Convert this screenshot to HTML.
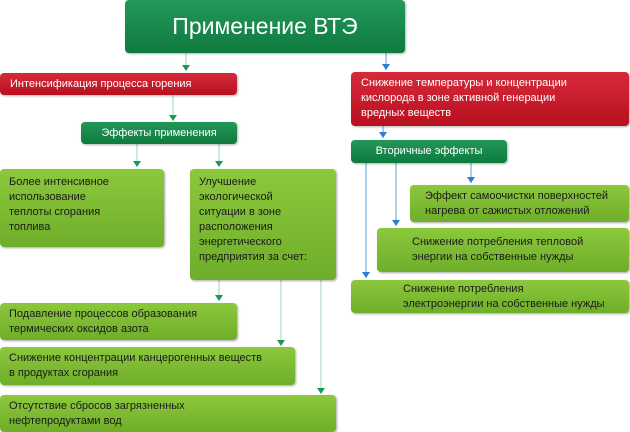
<!DOCTYPE html>
<html><head><meta charset="utf-8"><style>
body{margin:0;width:630px;height:432px;background:#fff;position:relative;overflow:hidden;font-family:"Liberation Sans",sans-serif;}
.b{position:absolute;box-sizing:border-box;border-radius:4px;font-size:11px;line-height:15px;color:#1a1a1a;}
.g{background:linear-gradient(#8cc83c,#6fae2a);box-shadow:1px 1px 2px rgba(0,0,0,.35);padding:6px 9px;}
.r{background:linear-gradient(#d62a3a,#b8101f);color:#fff;padding:4px 10px;box-shadow:1px 1px 2px rgba(0,0,0,.3);}
.d{background:linear-gradient(#23975a,#0f7a3e);color:#fff;text-align:center;box-shadow:1px 1px 2px rgba(0,0,0,.3);}
svg{position:absolute;left:0;top:0;}
</style></head><body>
<svg width="630" height="432">
<g stroke="#a8dcc0" stroke-width="1.2" fill="none">
<line x1="186" y1="53" x2="186" y2="70"/><line x1="173" y1="95" x2="173" y2="120"/>
<line x1="137" y1="144" x2="137" y2="166"/><line x1="219" y1="144" x2="219" y2="166"/>
<line x1="219" y1="280" x2="219" y2="300"/><line x1="281" y1="280" x2="281" y2="344"/><line x1="321" y1="280" x2="321" y2="392"/>
</g>
<g fill="#1a9a50">
<path d="M182,65h8l-4,6z"/><path d="M169,115h8l-4,6z"/><path d="M133,161h8l-4,6z"/><path d="M215,161h8l-4,6z"/>
<path d="M215,295h8l-4,6z"/><path d="M277,340h8l-4,6z"/><path d="M317,388h8l-4,6z"/>
</g>
<g stroke="#5aa0dc" stroke-width="1" fill="none">
<line x1="386" y1="53" x2="386" y2="70"/><line x1="383" y1="126" x2="383" y2="138"/>
<line x1="471" y1="163" x2="471" y2="183"/><line x1="396" y1="163" x2="396" y2="226"/><line x1="366" y1="163" x2="366" y2="278"/>
</g>
<g fill="#2a7fd0">
<path d="M382,64h8l-4,6z"/><path d="M379,132h8l-4,6z"/><path d="M467,177h8l-4,6z"/><path d="M392,220h8l-4,6z"/><path d="M362,272h8l-4,6z"/>
</g>
</svg>
<div class="b d" style="left:125px;top:0;width:280px;height:53px;font-size:23px;line-height:53px;">Применение ВТЭ</div>
<div class="b r" style="left:0;top:73px;width:237px;height:22px;">Интенсификация процесса горения</div>
<div class="b d" style="left:81px;top:122px;width:156px;height:22px;line-height:22px;">Эффекты применения</div>
<div class="b g" style="left:0;top:169px;width:164px;height:78px;">Более интенсивное<br>использование<br>теплоты сгорания<br>топлива</div>
<div class="b g" style="left:190px;top:169px;width:146px;height:111px;">Улучшение<br>экологической<br>ситуации в зоне<br>расположения<br>энергетического<br>предприятия за счет:</div>
<div class="b g" style="left:0;top:303px;width:237px;height:37px;padding-top:4px;">Подавление процессов образования<br>термических оксидов азота</div>
<div class="b g" style="left:0;top:347px;width:295px;height:38px;padding-top:4px;">Снижение концентрации канцерогенных веществ<br>в продуктах сгорания</div>
<div class="b g" style="left:0;top:395px;width:336px;height:37px;padding-top:4px;">Отсутствие сбросов загрязненных<br>нефтепродуктами вод</div>
<div class="b r" style="left:351px;top:72px;width:278px;height:54px;padding-top:4px;">Снижение температуры и концентрации<br>кислорода в зоне активной генерации<br>вредных веществ</div>
<div class="b d" style="left:351px;top:140px;width:156px;height:23px;line-height:23px;">Вторичные эффекты</div>
<div class="b g" style="left:410px;top:185px;width:219px;height:37px;padding:4px 0 0 15px;">Эффект самоочистки поверхностей<br>нагрева от сажистых отложений</div>
<div class="b g" style="left:377px;top:228px;width:252px;height:44px;padding:7px 0 0 35px;">Снижение потребления тепловой<br>энергии на собственные нужды</div>
<div class="b g" style="left:351px;top:280px;width:278px;height:33px;padding:2px 0 0 52px;">Снижение потребления<br>электроэнергии на собственные нужды</div>
</body></html>
